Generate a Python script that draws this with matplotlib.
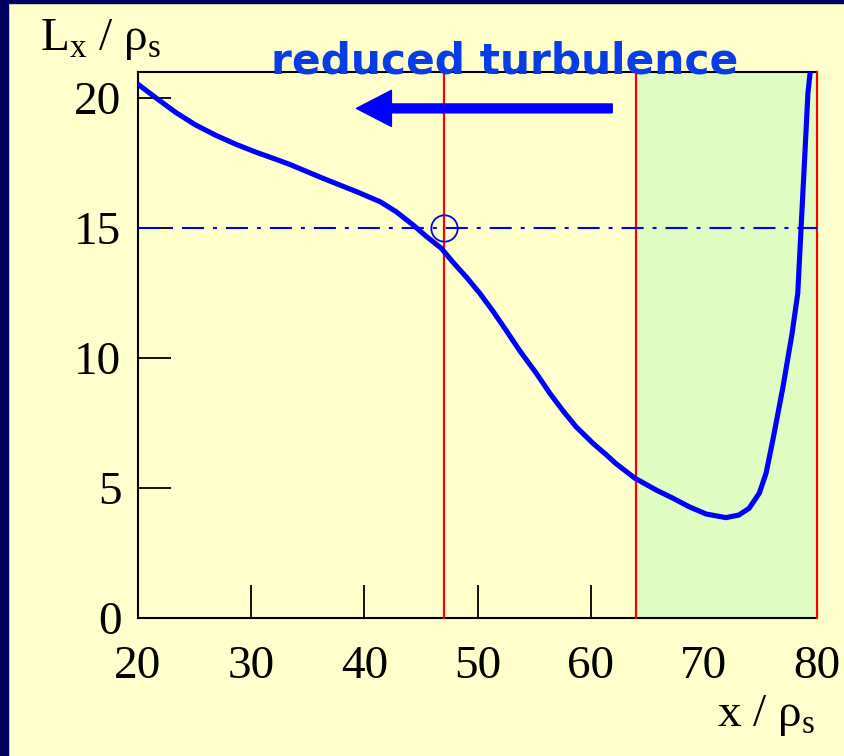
import numpy as np
import matplotlib.pyplot as plt
from matplotlib.patches import FancyArrowPatch, Rectangle

# values
curve_x = [20.0, 21.6, 23.35, 25.1, 26.9, 28.65, 30.4, 32.2, 33.5, 36.35, 39.3, 41.4,
           42.8, 44.3, 45.5, 46.8, 47.8, 49.0, 50.2, 51.4, 52.5, 53.7, 55.2, 56.4,
           57.5, 58.7, 60.2, 61.4, 62.2, 63.9, 65.8, 67.3, 68.7, 70.2, 71.95, 73.1,
           74.0, 74.9, 75.5, 76.1, 77.0, 77.8, 78.3, 78.6, 78.9, 79.2, 79.4]
curve_y = [20.53, 20.0, 19.44, 18.96, 18.56, 18.22, 17.92, 17.64, 17.43, 16.91, 16.4, 16.01,
           15.63, 15.12, 14.67, 14.22, 13.7, 13.12, 12.49, 11.78, 11.08, 10.3, 9.41, 8.64,
           8.0, 7.36, 6.72, 6.27, 5.95, 5.38, 4.92, 4.6, 4.28, 4.0, 3.86, 3.96,
           4.22, 4.8, 5.57, 6.85, 8.9, 10.95, 12.49, 15.05, 17.6, 20.2, 21.0]
red_lines = [47, 64, 80]
green_zone = (64, 80)
level = 15
crossing = (47, 15)
x_ticks = [20, 30, 40, 50, 60, 70, 80]
y_ticks = [0, 5, 10, 15, 20]

plt.rcParams['mathtext.fontset'] = 'custom'
plt.rcParams['mathtext.rm'] = 'Liberation Serif'
serif = 'Liberation Serif'

bg = '#FFFFCC'
fig = plt.figure(figsize=(8.44, 7.56), dpi=100, facecolor=bg)
ax = fig.add_axes([138/844, 1-618/756, 679/844, 546/756])
ax.set_facecolor(bg)

# slide border (dark blue) on the left and top edges
fig.patches.append(Rectangle((0, 0), 8/844, 1, transform=fig.transFigure, color='#00005E', zorder=0))
fig.patches.append(Rectangle((0, 1-3/756), 1, 3/756, transform=fig.transFigure, color='#00005E', zorder=0))

ax.axvspan(green_zone[0], green_zone[1], color='#DFFCC2', lw=0, zorder=1.6)
for xr in red_lines:
    ax.axvline(xr, color='#FF0000', lw=1.6, zorder=3, clip_on=False)

ln, = ax.plot([20, 80], [level, level], color='#0000FF', lw=1.5, zorder=3)
ln.set_dashes([10.6, 4.3, 1.9, 4.3])
ax.plot(*crossing, marker='o', ms=19, mfc='none', mec='#0000FF', mew=1.3, zorder=4)
ax.plot(curve_x, curve_y, color='#0000FF', lw=3.7, zorder=5,
        solid_capstyle='round', solid_joinstyle='round')

arr = FancyArrowPatch((61.9, 19.6), (39.3, 19.6),
                      arrowstyle='simple,head_length=1.26,head_width=1.3,tail_width=0.32',
                      mutation_scale=20, color='#0000FF', shrinkA=0, shrinkB=0, zorder=6)
ax.add_patch(arr)
ax.text(52.4, 20.96, 'reduced turbulence', color='#0A3CE6', fontsize=30.5, fontweight='bold',
        family='DejaVu Sans', ha='center', va='baseline', clip_on=False, zorder=7)

ax.set_xlim(20, 80)
ax.set_ylim(0, 21)
ax.set_xticks(x_ticks)
ax.set_yticks(y_ticks)
ax.tick_params(axis='both', direction='in', length=24, width=1.3, color='black')
ax.tick_params(axis='x', pad=20)
ax.tick_params(axis='y', pad=12)
for lab in ax.get_xticklabels() + ax.get_yticklabels():
    lab.set_family(serif)
    lab.set_fontsize(34)
ax.spines['right'].set_visible(False)
for s in ['left', 'bottom', 'top']:
    ax.spines[s].set_linewidth(1.5)

fig.text(40/844, 1-50/756, r'L$_\mathregular{x}$ / ρ$_\mathregular{s}$', family=serif,
         fontsize=34, ha='left', va='baseline')
fig.text(815/844, 1-726/756, r'x / ρ$_\mathregular{s}$', family=serif,
         fontsize=34, ha='right', va='baseline')

fig.savefig('out.png', dpi=100, facecolor=bg)
